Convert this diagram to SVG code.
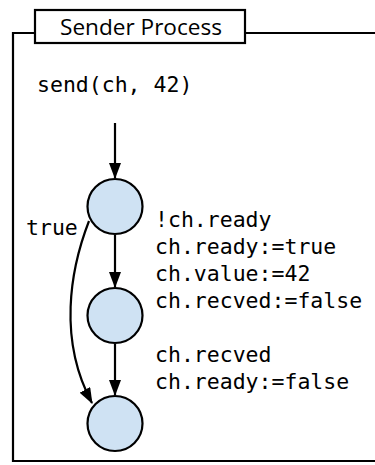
<svg xmlns="http://www.w3.org/2000/svg" width="375" height="465" viewBox="0 0 375 465">
  <style>
    .frame { fill: none; stroke: #000; stroke-width: 2.2; }
    .title { font-family: "Open Sans", "DejaVu Sans", sans-serif; font-size: 22px; fill: #000; }
    .code { font-family: "DejaVu Sans Mono", "Liberation Mono", monospace; font-size: 21.5px; fill: #000; }
    .state { fill: #cfe2f3; stroke: #000; stroke-width: 2.2; }
    .edge { fill: none; stroke: #000; stroke-width: 2.2; marker-end: url(#arrow); }
  </style>
  <defs>
    <marker id="arrow" viewBox="0 0 16 12" markerUnits="userSpaceOnUse" markerWidth="16" markerHeight="12" refX="15" refY="6" orient="auto">
      <path d="M0,0 L16,6 L0,12 z" fill="#000"/>
    </marker>
  </defs>

  <!-- process frame with its name tab -->
  <g id="process-frame">
    <path class="frame" d="M35,33 H13 V461 H376 M245,33 H376"/>
    <rect class="frame" x="35" y="10" width="210" height="33" fill="#fff"/>
    <text class="title" x="60" y="35" textLength="162" lengthAdjust="spacingAndGlyphs">Sender Process</text>
  </g>

  <g id="entry-label">
    <text class="code" x="37" y="92">send(ch, 42)</text>
  </g>

  <!-- connectors -->
  <g id="connectors">
    <line class="edge" x1="115" y1="123" x2="115" y2="178"/>
    <line class="edge" x1="115" y1="235" x2="115" y2="287"/>
    <line class="edge" x1="115" y1="344" x2="115" y2="395"/>
    <path class="edge" d="M89,221 C70,270 58,340 92,403"/>
  </g>

  <g id="edge-labels">
    <text class="code" x="26" y="235">true</text>
    <text class="code" x="155" y="227">!ch.ready</text>
    <text class="code" x="155" y="254">ch.ready:=true</text>
    <text class="code" x="155" y="281">ch.value:=42</text>
    <text class="code" x="155" y="308">ch.recved:=false</text>
    <text class="code" x="155" y="362">ch.recved</text>
    <text class="code" x="155" y="389">ch.ready:=false</text>
  </g>

  <!-- states -->
  <g id="state-1"><circle class="state" cx="115" cy="206.5" r="27.5"/></g>
  <g id="state-2"><circle class="state" cx="115" cy="315.5" r="27.5"/></g>
  <g id="state-3"><circle class="state" cx="115" cy="423.5" r="27.5"/></g>
</svg>
